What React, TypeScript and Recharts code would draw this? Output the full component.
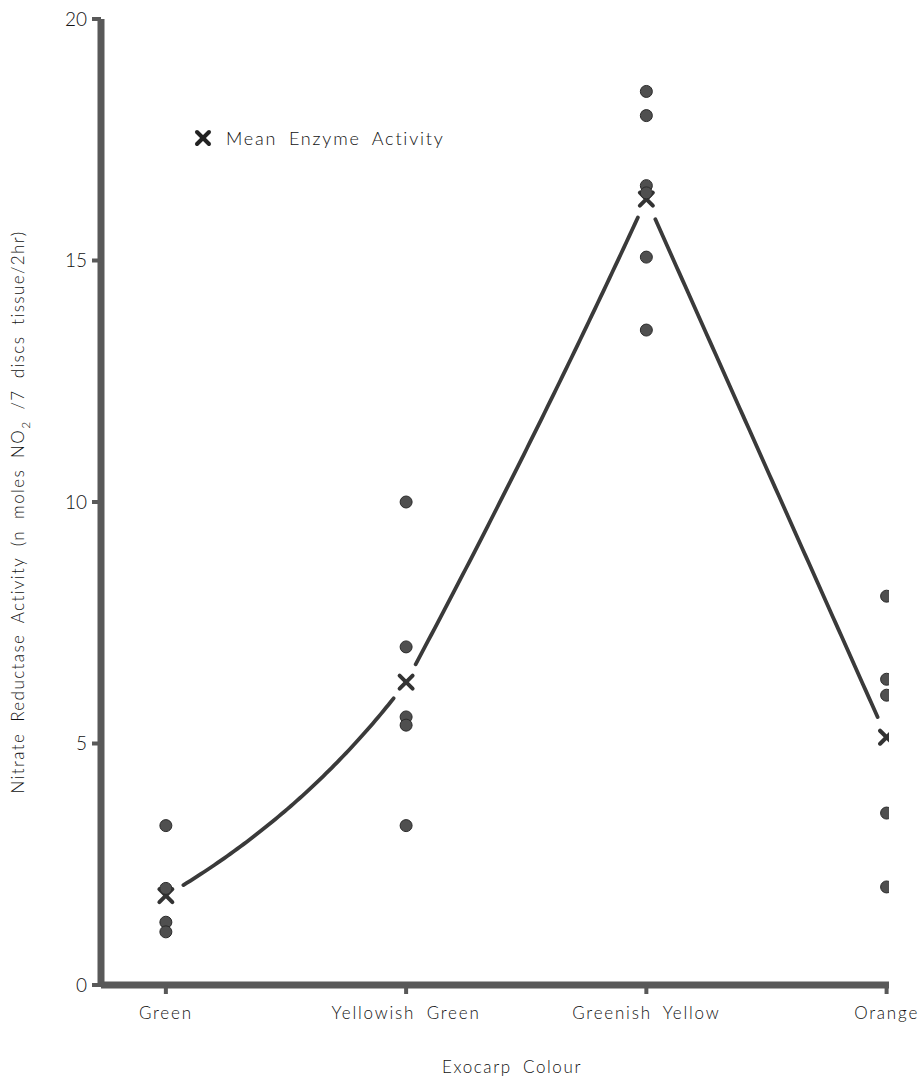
import React from 'react';
import { ComposedChart, Scatter, XAxis, YAxis } from 'recharts';

const categories = ['Green', 'Yellowish Green', 'Greenish Yellow', 'Orange'];
const greenValues = [3.3, 2.0, 1.3, 1.1];
const yellowishGreenValues = [10.0, 7.0, 5.55, 5.38, 3.3];
const greenishYellowValues = [18.5, 18.0, 16.55, 16.4, 15.07, 13.56];
const orangeValues = [8.05, 6.33, 6.0, 3.56, 2.03];
const meanActivity = [1.85, 6.27, 16.27, 5.13];
const yTicks = [0, 5, 10, 15, 20];
const xTicks = [0, 1, 2, 3];

const groupValues = [greenValues, yellowishGreenValues, greenishYellowValues, orangeValues];
const pointData = groupValues.flatMap((vals, i) => vals.map((v) => ({ x: i, y: v })));
const meanData = meanActivity.map((v, i) => ({ x: i, y: v }));

const FONT = 'Lato, "Open Sans", "DejaVu Sans", sans-serif';
const INK = '#333';
const AXIS = '#595959';
const GAP = 18;
// hand-drawn sag of each connecting segment (fraction of its length)
const SEGMENT_BEND = [0.1, 0.015, 0];

const Dot = (props: any) => {
  const { cx, cy } = props;
  return <circle cx={cx} cy={cy} r={6} fill="#4f4f4f" stroke="#2b2b2b" strokeWidth={1} />;
};

const MeanMark = (props: any) => {
  const { cx, cy } = props;
  const s = 6.5;
  return (
    <g>
      <line x1={cx - s} y1={cy - s} x2={cx + s} y2={cy + s} stroke={INK} strokeWidth={4} strokeLinecap="round" />
      <line x1={cx - s} y1={cy + s} x2={cx + s} y2={cy - s} stroke={INK} strokeWidth={4} strokeLinecap="round" />
    </g>
  );
};

// connecting line between mean markers, broken just before each marker
const GapLine = (props: any) => {
  const pts: { x: number; y: number }[] = props.points || [];
  const segs: string[] = [];
  for (let i = 0; i < pts.length - 1; i++) {
    const a = pts[i];
    const b = pts[i + 1];
    const dx = b.x - a.x;
    const dy = b.y - a.y;
    const len = Math.sqrt(dx * dx + dy * dy) || 1;
    const bend = (SEGMENT_BEND[i] || 0) * len;
    const cxp = (a.x + b.x) / 2 + (-dy / len) * bend;
    const cyp = (a.y + b.y) / 2 + (dx / len) * bend;
    const sample: string[] = [];
    const N = 80;
    for (let k = 0; k <= N; k++) {
      const t = k / N;
      const x = (1 - t) * (1 - t) * a.x + 2 * (1 - t) * t * cxp + t * t * b.x;
      const y = (1 - t) * (1 - t) * a.y + 2 * (1 - t) * t * cyp + t * t * b.y;
      const da = Math.hypot(x - a.x, y - a.y);
      const db = Math.hypot(x - b.x, y - b.y);
      if (da >= GAP && db >= GAP) sample.push(`${x.toFixed(2)},${y.toFixed(2)}`);
    }
    if (sample.length > 1) segs.push(`M${sample.join('L')}`);
  }
  return <path d={segs.join('')} fill="none" stroke="#3a3a3a" strokeWidth={3.8} strokeLinecap="round" strokeLinejoin="round" />;
};

const XTick = (props: any) => {
  const { x, y, payload } = props;
  return (
    <text x={x} y={y} dy="0.71em" textAnchor="middle" fontFamily={FONT} fontWeight={300} fontSize={17} letterSpacing={1.8} wordSpacing={5} fill="#111">
      {categories[payload.value]}
    </text>
  );
};

const YTick = (props: any) => {
  const { x, y, payload } = props;
  return (
    <text x={x} y={y} dy="0.355em" textAnchor="end" fontFamily={FONT} fontWeight={300} fontSize={19} fill="#111">
      {payload.value}
    </text>
  );
};

const YTitle = () => (
  <text
    x={18}
    y={512}
    transform="rotate(-90, 18, 512)"
    textAnchor="middle"
    dy="0.35em"
    fontFamily={FONT}
    fontWeight={300}
    fontSize={17}
    letterSpacing={1.4}
    wordSpacing={5}
    fill="#111"
  >
    Nitrate Reductase Activity (n moles NO
    <tspan dy="6" fontSize={12}>2</tspan>
    <tspan dy="-6"> /7 discs tissue/2hr)</tspan>
  </text>
);

const XTitle = () => (
  <text x={512} y={1067} dy="0.35em" textAnchor="middle" fontFamily={FONT} fontWeight={300} fontSize={17} letterSpacing={1.6} wordSpacing={5} fill="#111">
    Exocarp Colour
  </text>
);

export default function App() {
  return (
    <div style={{ position: 'absolute', left: 0, top: 0, width: 923, height: 1079, background: '#fff' }}>
      <ComposedChart width={923} height={1079} margin={{ top: 19, right: 34, bottom: 64, left: 41 }}>
        <XAxis
          type="number"
          dataKey="x"
          domain={[-0.27, 3.01]}
          ticks={xTicks}
          allowDataOverflow
          height={30}
          axisLine={{ stroke: AXIS, strokeWidth: 7 }}
          tickLine={{ stroke: AXIS, strokeWidth: 4 }}
          tickSize={9}
          tickMargin={13}
          tick={<XTick />}
          label={{ content: <XTitle /> }}
        />
        <YAxis
          type="number"
          dataKey="y"
          domain={[0, 20]}
          ticks={yTicks}
          width={60}
          axisLine={{ stroke: AXIS, strokeWidth: 7 }}
          tickLine={{ stroke: AXIS, strokeWidth: 4 }}
          tickSize={9}
          tickMargin={5}
          tick={<YTick />}
          label={{ content: <YTitle /> }}
        />
        <Scatter
          data={meanData}
          dataKey="y"
          line={<GapLine />}
          lineType="joint"
          shape={<MeanMark />}
          isAnimationActive={false}
        />
        <Scatter data={pointData} dataKey="y" shape={<Dot />} isAnimationActive={false} />
      </ComposedChart>
      <div
        style={{
          position: 'absolute',
          left: 194,
          top: 127,
          display: 'flex',
          alignItems: 'center',
          fontFamily: FONT,
          fontWeight: 300,
          fontSize: 18,
          letterSpacing: 1.8,
          wordSpacing: 5,
          color: '#111',
        }}
      >
        <svg width={18} height={18} style={{ marginRight: 14 }}>
          <line x1={3} y1={3} x2={15} y2={15} stroke="#222" strokeWidth={4} strokeLinecap="round" />
          <line x1={3} y1={15} x2={15} y2={3} stroke="#222" strokeWidth={4} strokeLinecap="round" />
        </svg>
        <span>Mean Enzyme Activity</span>
      </div>
    </div>
  );
}
